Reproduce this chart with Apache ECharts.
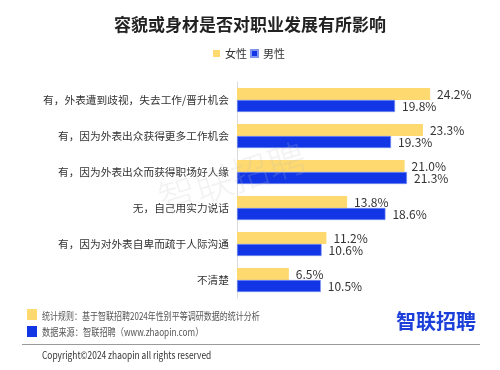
<!DOCTYPE html>
<html>
<head>
<meta charset="utf-8">
<script src="https://cdn.jsdelivr.net/npm/echarts@6/dist/echarts.min.js"></script>
<style>
html,body{margin:0;padding:0;background:#fff;}
#c{width:500px;height:370px;}
</style>
</head>
<body>
<div id="c"></div>
<script>
const categories = [
  '有，外表遭到歧视，失去工作/晋升机会',
  '有，因为外表出众获得更多工作机会',
  '有，因为外表出众而获得职场好人缘',
  '无，自己用实力说话',
  '有，因为对外表自卑而疏于人际沟通',
  '不清楚'
];
const female = [24.2, 23.3, 21.0, 13.8, 11.2, 6.5];
const male = [19.8, 19.3, 21.3, 18.6, 10.6, 10.5];
const seriesNames = ['女性', '男性'];
const colors = ['#FDD96F', '#1236E6'];
const titleText = '容貌或身材是否对职业发展有所影响';
const note1 = '统计规则：基于智联招聘2024年性别平等调研数据的统计分析';
const note2 = '数据来源：智联招聘（www.zhaopin.com）';
const copyright = 'Copyright©2024 zhaopin all rights reserved';
const brand = '智联招聘';

const FONT = '"Noto Sans CJK SC", "Noto Sans", sans-serif';
const chart = echarts.init(document.getElementById('c'), null, {renderer: 'canvas'});
const labelCfg = {
  show: true, position: 'right', distance: 7,
  color: '#333', fontSize: 12, fontFamily: FONT,
  formatter: p => p.value.toFixed(1) + '%'
};
chart.setOption({
  animation: false,
  backgroundColor: '#fff',
  textStyle: {fontFamily: FONT},
  title: {
    text: titleText, left: 'center', top: 11,
    textStyle: {fontSize: 17, fontWeight: 'bold', color: '#222', fontFamily: FONT}
  },
  legend: {
    data: seriesNames, left: 208, top: 43,
    itemWidth: 7, itemHeight: 7, itemGap: 3, icon: 'rect',
    textStyle: {fontSize: 11, color: '#333', fontFamily: FONT}
  },
  grid: {left: 237, top: 82, width: 239.4, height: 216, containLabel: false},
  xAxis: {type: 'value', min: 0, max: 30, show: false},
  yAxis: {
    type: 'category', data: categories, inverse: true,
    axisLine: {show: true, lineStyle: {color: '#dcdcdc'}},
    axisTick: {show: false},
    axisLabel: {fontSize: 10.7, color: '#333', margin: 8, fontFamily: FONT}
  },
  series: [
    {name: seriesNames[0], type: 'bar', data: female, barWidth: 12, barGap: '0%',
     itemStyle: {color: colors[0]}, label: labelCfg},
    {name: seriesNames[1], type: 'bar', data: male, barWidth: 12, barGap: '0%',
     itemStyle: {color: colors[1], borderColor: '#7f95f0', borderWidth: 0.6}, label: labelCfg}
  ],
  graphic: [
    {type: 'text', x: 232, y: 178, rotation: 0.3, z: 100, silent: true,
     style: {text: brand, fontSize: 38, fontWeight: 300, fill: 'rgba(190,190,190,0.2)', fontFamily: FONT, align: 'center', verticalAlign: 'middle'}},
    {type: 'rect', shape: {x: 27, y: 309, width: 10, height: 11}, style: {fill: colors[0]}},
    {type: 'rect', shape: {x: 27, y: 326, width: 10, height: 11}, style: {fill: colors[1]}},
    {type: 'text', x: 42, y: 316, scaleX: 0.8,
     style: {text: note1, fontSize: 10, fill: '#555', fontFamily: FONT, verticalAlign: 'middle'}},
    {type: 'text', x: 42, y: 332, scaleX: 0.82,
     style: {text: note2, fontSize: 10, fill: '#555', fontFamily: FONT, verticalAlign: 'middle'}},
    {type: 'text', x: 396, y: 321, style: {text: brand, fontSize: 20, fontWeight: 'bold', fill: '#1B3FD8', fontFamily: FONT, verticalAlign: 'middle'}},
    {type: 'line', shape: {x1: 22, y1: 344.5, x2: 480, y2: 344.5}, style: {stroke: '#9a9a9a', lineWidth: 1}},
    {type: 'text', x: 42, y: 355, scaleX: 0.84,
     style: {text: copyright, fontSize: 10, fill: '#333', fontFamily: FONT, verticalAlign: 'middle'}}
  ]
});
</script>
</body>
</html>
